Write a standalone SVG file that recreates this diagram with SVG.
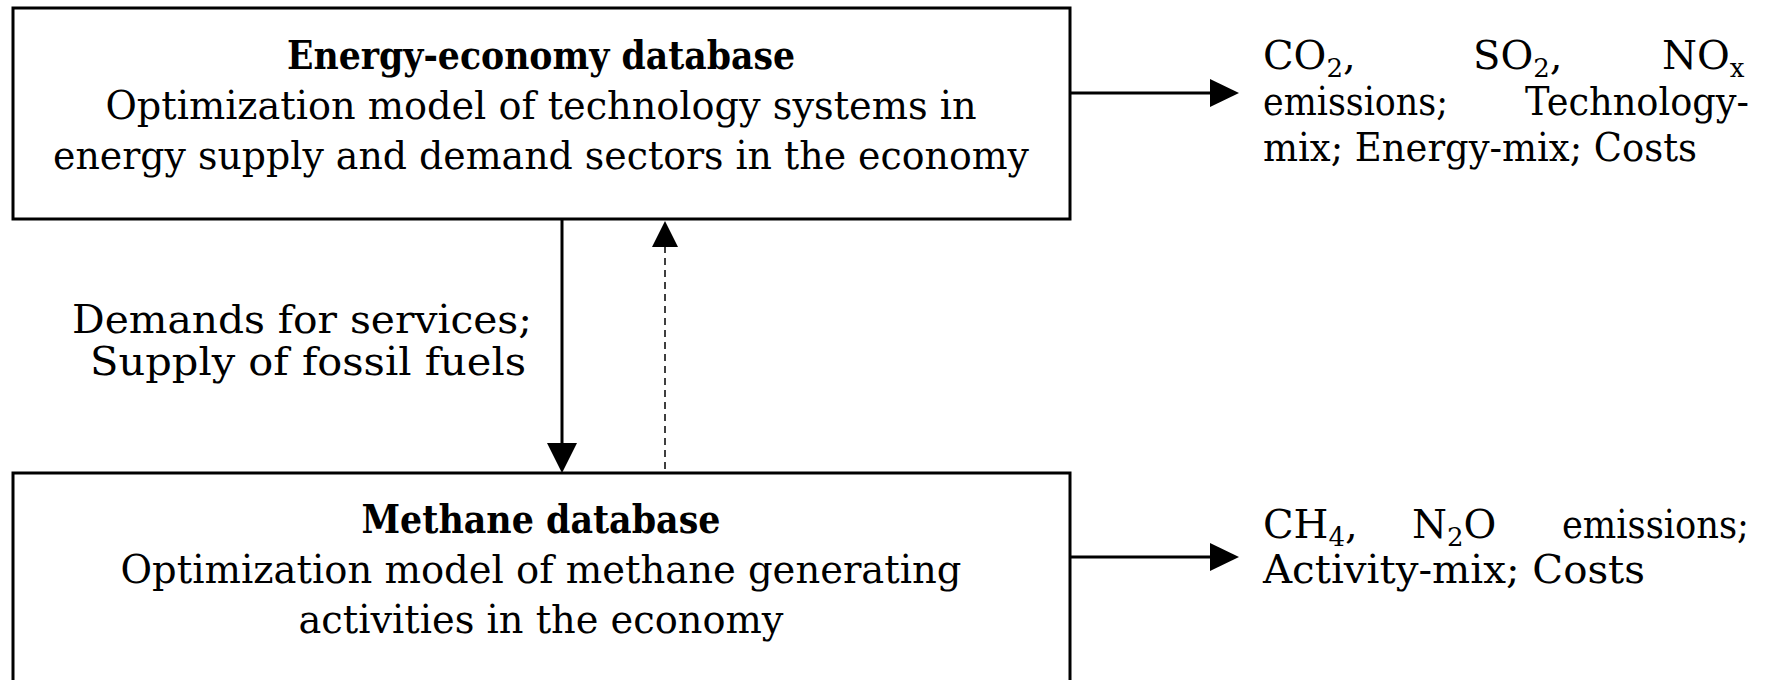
<svg xmlns="http://www.w3.org/2000/svg" width="1769" height="680" viewBox="0 0 1769 680">
<style>
.box{fill:#fff;stroke:#000;stroke-width:3}
.t{font-family:"DejaVu Serif","Liberation Serif",serif;font-size:40px;fill:#000}
.b{font-weight:bold}
.c{text-anchor:middle}
.sub{font-size:26px}
.ln{stroke:#000;stroke-width:3;fill:none}
.dl{stroke:#000;stroke-width:1.5;fill:none;stroke-dasharray:7 5}
.ah{fill:#000}
</style>
<rect width="1769" height="680" fill="#fff"/>
<g id="energy-node">
<rect class="box" x="13" y="8" width="1057" height="211"/>
<text class="t b c" x="541" y="69" textLength="508" lengthAdjust="spacingAndGlyphs">Energy-economy database</text>
<text class="t c" x="541" y="119" textLength="871" lengthAdjust="spacingAndGlyphs">Optimization model of technology systems in</text>
<text class="t c" x="541" y="169" textLength="976" lengthAdjust="spacingAndGlyphs">energy supply and demand sectors in the economy</text>
</g>
<g id="methane-node">
<rect class="box" x="13" y="473" width="1057" height="230"/>
<text class="t b c" x="541" y="533" textLength="359" lengthAdjust="spacingAndGlyphs">Methane database</text>
<text class="t c" x="541" y="583" textLength="841" lengthAdjust="spacingAndGlyphs">Optimization model of methane generating</text>
<text class="t c" x="541" y="633" textLength="485" lengthAdjust="spacingAndGlyphs">activities in the economy</text>
</g>
<g id="energy-outputs">
<text class="t" x="1263" y="69">CO<tspan class="sub" dy="8">2</tspan><tspan dy="-8">,</tspan></text>
<text class="t" x="1473" y="69">SO<tspan class="sub" dy="8">2</tspan><tspan dy="-8">,</tspan></text>
<text class="t" x="1662" y="69">NO<tspan class="sub" dy="8">x</tspan></text>
<text class="t" x="1263" y="115" textLength="185" lengthAdjust="spacingAndGlyphs">emissions;</text>
<text class="t" x="1525" y="115" textLength="224" lengthAdjust="spacingAndGlyphs">Technology-</text>
<text class="t" x="1263" y="161" textLength="434" lengthAdjust="spacingAndGlyphs">mix; Energy-mix; Costs</text>
</g>
<g id="methane-outputs">
<text class="t" x="1263" y="538">CH<tspan class="sub" dy="8">4</tspan><tspan dy="-8">,</tspan></text>
<text class="t" x="1412" y="538">N<tspan class="sub" dy="8">2</tspan><tspan dy="-8">O</tspan></text>
<text class="t" x="1562" y="538" textLength="187" lengthAdjust="spacingAndGlyphs">emissions;</text>
<text class="t" x="1263" y="583" textLength="382" lengthAdjust="spacingAndGlyphs">Activity-mix; Costs</text>
</g>
<g id="link-label">
<text class="t" x="72" y="333" textLength="460" lengthAdjust="spacingAndGlyphs">Demands for services;</text>
<text class="t" x="90" y="375" textLength="436" lengthAdjust="spacingAndGlyphs">Supply of fossil fuels</text>
</g>
<g id="connectors">
<line class="ln" x1="1070" y1="93" x2="1212" y2="93"/>
<polygon class="ah" points="1210,79 1239,93 1210,107"/>
<line class="ln" x1="1070" y1="557" x2="1212" y2="557"/>
<polygon class="ah" points="1210,543 1239,557 1210,571"/>
<line class="ln" x1="562" y1="219" x2="562" y2="445"/>
<polygon class="ah" points="547,443 577,443 562,473"/>
<line class="dl" x1="665" y1="246" x2="665" y2="472"/>
<polygon class="ah" points="652,247 678,247 665,221"/>
</g>
</svg>
